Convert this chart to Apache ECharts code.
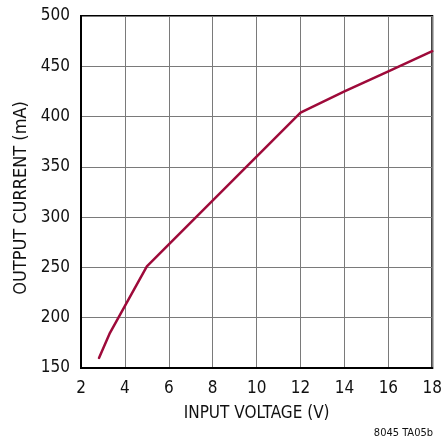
<!DOCTYPE html>
<html>
<head>
<meta charset="utf-8">
<script src="https://cdn.jsdelivr.net/npm/echarts@6/dist/echarts.min.js"></script>
<style>
  html, body { margin: 0; padding: 0; background: #fff; }
  #chart { width: 445px; height: 437px; }
</style>
</head>
<body>
<div id="chart"></div>
<script>
// Input voltage (V) vs. output current (mA)
const inputVoltage = [2.82, 3.32, 5, 12, 14, 16, 18];
const outputCurrent = [160, 185, 251, 404, 425, 445, 465];
const xTicks = { min: 2, max: 18, step: 2 };
const yTicks = { min: 150, max: 500, step: 50 };

const FONT = '"DejaVu Sans Condensed", "Liberation Sans Narrow", sans-serif';

const chart = echarts.init(document.getElementById('chart'), null, { renderer: 'canvas' });
chart.setOption({
  animation: false,
  backgroundColor: '#ffffff',
  grid: { left: 81, right: 12, top: 16, bottom: 69, show: true, borderColor: '#000', borderWidth: 2, backgroundColor: 'transparent' },
  xAxis: {
    type: 'value',
    min: xTicks.min, max: xTicks.max, interval: xTicks.step,
    name: 'INPUT VOLTAGE (V)',
    nameLocation: 'middle', nameGap: 37,
    nameTextStyle: { fontFamily: FONT, fontSize: 17, color: '#111' },
    axisLine: { show: true, lineStyle: { color: '#000', width: 2 } },
    axisTick: { show: false },
    axisLabel: { fontFamily: FONT, fontSize: 17, color: '#111', margin: 12 },
    splitLine: { show: true, lineStyle: { color: '#7a7a7a', width: 1 } }
  },
  yAxis: {
    type: 'value',
    min: yTicks.min, max: yTicks.max, interval: yTicks.step,
    name: 'OUTPUT CURRENT (mA)',
    nameLocation: 'middle', nameGap: 50,
    nameTextStyle: { fontFamily: FONT, fontSize: 18, color: '#111', padding: [0, 12, 0, 0] },
    axisLine: { show: true, lineStyle: { color: '#000', width: 2 } },
    axisTick: { show: false },
    axisLabel: { fontFamily: FONT, fontSize: 17, color: '#111', margin: 11 },
    splitLine: { show: true, lineStyle: { color: '#7a7a7a', width: 1 } }
  },
  graphic: [{
    type: 'text', right: 12, top: 428,
    style: { text: '8045 TA05b', font: '11px ' + FONT, fill: '#111', textVerticalAlign: 'middle' }
  }],
  series: [{
    type: 'line',
    data: inputVoltage.map((v, i) => [v, outputCurrent[i]]),
    showSymbol: false,
    lineStyle: { color: '#9e0a3a', width: 2.5, join: 'round', cap: 'round' }
  }]
});
</script>
</body>
</html>
